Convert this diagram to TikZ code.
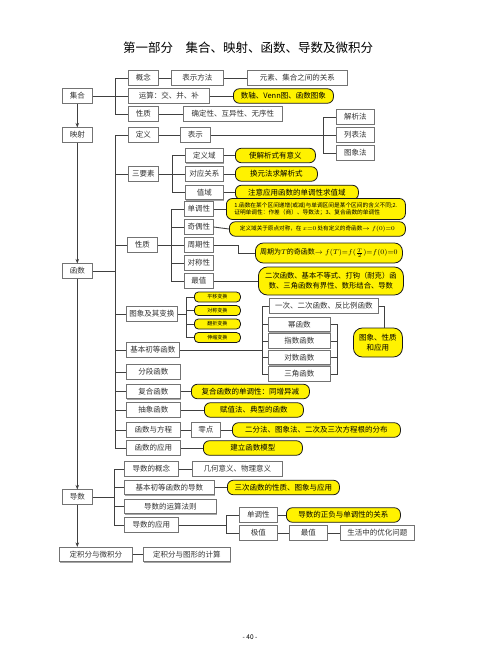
\documentclass[tikz,border=0pt]{standalone}
\usepackage{fontspec}
\setmainfont{Noto Sans CJK SC}
\usetikzlibrary{arrows.meta,shadows}
\begin{document}
\begin{tikzpicture}[x=1pt,y=-1pt,
  bx/.style={draw=black!55, line width=0.6pt, fill=white, inner sep=0pt, minimum height=14.5pt, anchor=west, text=black!80, font=\fontsize{7.5}{9}\selectfont, drop shadow={shadow xshift=0.9pt, shadow yshift=-0.9pt, fill=black!35, opacity=1}},
  yb/.style={draw=black!90, line width=0.8pt, fill=yellow, rounded corners=6pt, inner sep=0pt, minimum height=14.5pt, anchor=west, text=black, font=\fontsize{7.5}{9}\selectfont},
  ybs/.style={yb, rounded corners=4pt, minimum height=10pt, font=\fontsize{5}{6}\selectfont},
  ln/.style={draw=black!75, line width=0.9pt},
  arr/.style={ln, -{Stealth[length=4.5pt,width=3.5pt]}}
]
\useasboundingbox (0,0) rectangle (500,652);
% title
\node[font=\fontsize{12.5}{15}\selectfont] (title) at (248,48) {第一部分\quad 集合、映射、函数、导数及微积分};
% left trunk
\node[bx, minimum width=30pt] (jihe) at (62,96) {集合};
\node[bx, minimum width=30pt] (yingshe) at (62,135) {映射};
\node[bx, minimum width=30pt] (hanshu) at (62,271) {函数};
\node[bx, minimum width=30pt] (daoshu) at (62,497) {导数};
\node[bx, minimum width=73pt] (djf) at (59,554.5) {定积分与微积分};
% set
\node[bx, minimum width=30pt] (gn) at (128,78) {概念};
\node[bx, minimum width=81pt] (ysj) at (128,96) {运算：交、并、补};
\node[bx, minimum width=30pt] (xz1) at (128,114) {性质};
\node[bx, minimum width=52pt] (bsff) at (171,78) {表示方法};
\node[bx, minimum width=100pt] (ysgx) at (247,78) {元素、集合之间的关系};
\node[yb, minimum width=100pt] (shuzhou) at (233,96) {数轴、Venn图、函数图象};
\node[bx, minimum width=99pt] (qdx) at (183,114) {确定性、互异性、无序性};
% definition
\node[bx, minimum width=30pt] (dy) at (128,135) {定义};
\node[bx, minimum width=30pt] (bs) at (180,135) {表示};
\node[bx, minimum width=38pt] (jxf) at (336,117) {解析法};
\node[bx, minimum width=38pt] (lbf) at (336,135) {列表法};
\node[bx, minimum width=38pt] (txf) at (336,153) {图象法};
% three elements
\node[bx, minimum width=30pt] (sys) at (128,174) {三要素};
\node[bx, minimum width=38pt] (dyy) at (185,155.5) {定义域};
\node[bx, minimum width=38pt] (dygx) at (185,174) {对应关系};
\node[bx, minimum width=38pt] (zy) at (185,192.5) {值域};
\node[yb, minimum width=80pt] (y1) at (235,155.5) {使解析式有意义};
\node[yb, minimum width=82pt] (y2) at (235,174) {换元法求解析式};
\node[yb, minimum width=123pt] (y3) at (235,192.5) {注意应用函数的单调性求值域};
% properties
\node[bx, minimum width=30pt] (xz2) at (127,245) {性质};
\node[bx, minimum width=29pt] (ddx) at (184,209) {单调性};
\node[bx, minimum width=29pt] (joux) at (184,227) {奇偶性};
\node[bx, minimum width=29pt] (zqx) at (184,245) {周期性};
\node[bx, minimum width=29pt] (dcx) at (184,263) {对称性};
\node[bx, minimum width=29pt] (zz) at (184,281) {最值};
\node[yb, minimum width=179pt, minimum height=21pt, align=left, font=\fontsize{5.7}{7.5}\selectfont] (ydd) at (226,209) {1.函数在某个区间递增(或减)与单调区间是某个区间的含义不同;2.\\证明单调性：作差（商）、导数法；3、复合函数的单调性};
\node[yb, minimum width=176pt, font=\fontsize{5.6}{7}\selectfont] (yjo) at (229,229) {定义域关于原点对称，在$\,x{=}0\,$处有定义的奇函数$\to f(0){=}0$};
\node[yb, minimum width=147pt, minimum height=20pt, rounded corners=8pt, font=\fontsize{7}{9}\selectfont] (yzq) at (255,253) {周期为$T$的奇函数$\to f(T){=}f({\textstyle\frac{T}{2}}){=}f(0){=}0$};
\node[yb, minimum width=145pt, minimum height=28pt, rounded corners=9pt, align=center, font=\fontsize{7.3}{10}\selectfont] (yzz) at (258,281) {二次函数、基本不等式、打钩（耐克）函\\数、三角函数有界性、数形结合、导数};
% graphs and transforms
\node[bx, minimum width=51pt] (txbh) at (126,314) {图象及其变换};
\node[ybs, minimum width=46pt] (pybh) at (194,297) {平移变换};
\node[ybs, minimum width=46pt] (dcbh) at (194,310.5) {对称变换};
\node[ybs, minimum width=46pt] (fzbh) at (194,324) {翻折变换};
\node[ybs, minimum width=46pt] (ssbh) at (194,337.5) {伸缩变换};
% basic elementary functions
\node[bx, minimum width=53pt] (jbcd) at (126,350) {基本初等函数};
\node[bx, minimum width=109pt] (yc) at (269,306) {一次、二次函数、反比例函数};
\node[bx, minimum width=62pt] (mhs) at (268,324.5) {幂函数};
\node[bx, minimum width=62pt] (zshs) at (268,341) {指数函数};
\node[bx, minimum width=62pt] (dshs) at (268,357.5) {对数函数};
\node[bx, minimum width=62pt] (sjhs) at (268,374) {三角函数};
\node[yb, minimum width=49pt, minimum height=29pt, rounded corners=9pt, align=center, font=\fontsize{7.5}{10}\selectfont] (tx) at (353,342.5) {图象、性质\\和应用};
% other function kinds
\node[bx, minimum width=54pt] (fdhs) at (126,372) {分段函数};
\node[bx, minimum width=54pt] (fhhs) at (126,391.5) {复合函数};
\node[bx, minimum width=54pt] (cxhs) at (126,410) {抽象函数};
\node[bx, minimum width=54pt] (hsfc) at (126,430) {函数与方程};
\node[bx, minimum width=54pt] (hsyy) at (126,448) {函数的应用};
\node[bx, minimum width=29pt] (ling) at (191,430) {零点};
\node[yb, minimum width=118pt] (yfh) at (191,391.5) {复合函数的单调性：同增异减};
\node[yb, minimum width=99pt] (ycx) at (204,410) {赋值法、典型的函数};
\node[yb, minimum width=168pt] (yef) at (232,430) {二分法、图象法、二次及三次方程根的分布};
\node[yb, minimum width=99pt] (yjl) at (203,448) {建立函数模型};
% derivative
\node[bx, minimum width=54pt] (dsgn) at (124,469) {导数的概念};
\node[bx, minimum width=90pt] (jbds) at (124,487.5) {基本初等函数的导数};
\node[bx, minimum width=92pt] (ysfz) at (124,506.5) {导数的运算法则};
\node[bx, minimum width=54pt] (dsyy) at (124,525) {导数的应用};
\node[bx, minimum width=90pt] (jhyy) at (192,469) {几何意义、物理意义};
\node[yb, minimum width=112pt] (ysc) at (227,487.5) {三次函数的性质、图象与应用};
\node[bx, minimum width=38pt] (ddx2) at (239,515) {单调性};
\node[bx, minimum width=38pt] (jz) at (239,533) {极值};
\node[bx, minimum width=38pt] (zz2) at (289,533) {最值};
\node[bx, minimum width=74pt] (shyh) at (340,533) {生活中的优化问题};
\node[yb, minimum width=114pt] (yzf) at (286,515) {导数的正负与单调性的关系};
\node[bx, minimum width=87pt] (djftx) at (143,554.5) {定积分与图形的计算};
% page number
\node[font=\fontsize{6.5}{8}\selectfont] (pg) at (250,637) {- 40 -};

% bus coordinates
\coordinate (b1) at (115,0);
\coordinate (b2) at (323,0);
\coordinate (b3) at (172,0);
\coordinate (b4) at (171,0);
\coordinate (b5) at (186,0);
\coordinate (b6) at (262,0);
\coordinate (b7) at (337,0);
\coordinate (b8) at (114,0);
\coordinate (b9) at (226,0);

% trunk arrows
\draw[arr] (jihe.south) -- (yingshe.north);
\draw[arr] (yingshe.south) -- (hanshu.north);
\draw[arr] (hanshu.south) -- (daoshu.north);
\draw[arr] (daoshu.south) -- (daoshu.south |- djf.north);

% set connectors
\draw[ln] (gn.west) -- (gn.west -| b1) -- (xz1.west -| b1) -- (xz1.west);
\draw[ln] (jihe.east) -- (ysj.west);
\draw[ln] (gn.east) -- (bsff.west);
\draw[ln] (bsff.east) -- (ysgx.west);
\draw[ln] (ysj.east) -- (shuzhou.west);
\draw[ln] (xz1.east) -- (qdx.west);

% function bus
\draw[ln] (dy.west) -- (dy.west -| b1) -- (hsyy.west -| b1) -- (hsyy.west);
\foreach \n in {sys,xz2,txbh,jbcd,fdhs,fhhs,cxhs,hsfc} \draw[ln] (\n.west) -- (\n.west -| b1);
\draw[ln] (hanshu.east) -- (hanshu.east -| b1);

% definition
\draw[ln] (dy.east) -- (bs.west);
\draw[ln] (bs.east) -- (lbf.west);
\draw[ln] (jxf.west) -- (jxf.west -| b2) -- (txf.west -| b2) -- (txf.west);

% three elements
\draw[ln] (sys.east) -- (dygx.west);
\draw[ln] (dyy.west) -- (dyy.west -| b3) -- (zy.west -| b3) -- (zy.west);
\draw[ln] (dyy.east) -- (y1.west);
\draw[ln] (dygx.east) -- (y2.west);
\draw[ln] (zy.east) -- (y3.west);

% properties
\draw[ln] (xz2.east) -- (zqx.west);
\draw[ln] (ddx.west) -- (ddx.west -| b4) -- (zz.west -| b4) -- (zz.west);
\draw[ln] (joux.west) -- (joux.west -| b4);
\draw[ln] (dcx.west) -- (dcx.west -| b4);
\draw[ln] (ddx.east) -- (ydd.west);
\draw[ln] (joux.east) -- (yjo.west);
\draw[ln] (zqx.east) -- ++(25,0) |- (yzq.west);
\draw[ln] (zz.east) -- (yzz.west);

% transforms
\draw[ln] (txbh.east) -- (txbh.east -| b5);
\draw[ln] (pybh.west) -- (pybh.west -| b5) -- (ssbh.west -| b5) -- (ssbh.west);
\draw[ln] (dcbh.west) -- (dcbh.west -| b5);
\draw[ln] (fzbh.west) -- (fzbh.west -| b5);

% basic elementary functions
\draw[ln] (jbcd.east) -- (jbcd.east -| b6);
\draw[ln] (yc.west) -- (yc.west -| b6) -- (sjhs.west -| b6) -- (sjhs.west);
\foreach \n in {mhs,zshs,dshs} \draw[ln] (\n.west) -- (\n.west -| b6);
\draw[ln] (mhs.east) -- (mhs.east -| b7) -- (sjhs.east -| b7) -- (sjhs.east);
\foreach \n in {zshs,dshs} \draw[ln] (\n.east) -- (\n.east -| b7);
\draw[ln] (yc.east) -- ++(6,0) coordinate (c8) -- (c8 |- tx.north);

% other functions
\draw[ln] (fhhs.east) -- (yfh.west);
\draw[ln] (cxhs.east) -- (ycx.west);
\draw[ln] (hsfc.east) -- (ling.west);
\draw[ln] (ling.east) -- (yef.west);
\draw[ln] (hsyy.east) -- (yjl.west);

% derivative
\draw[ln] (dsgn.west) -- (dsgn.west -| b8) -- (dsyy.west -| b8) -- (dsyy.west);
\draw[ln] (jbds.west) -- (jbds.west -| b8);
\draw[ln] (ysfz.west) -- (ysfz.west -| b8);
\draw[ln] (daoshu.east) -- (daoshu.east -| b8);
\draw[ln] (dsgn.east) -- (jhyy.west);
\draw[ln] (jbds.east) -- (ysc.west);
\draw[ln] (dsyy.east) -- (dsyy.east -| b9);
\draw[ln] (ddx2.west) -- (ddx2.west -| b9) -- (jz.west -| b9) -- (jz.west);
\draw[ln] (ddx2.east) -- (yzf.west);
\draw[ln] (jz.east) -- (zz2.west);
\draw[ln] (zz2.east) -- (shyh.west);
\draw[ln] (djf.east) -- (djftx.west);
\end{tikzpicture}
\end{document}
